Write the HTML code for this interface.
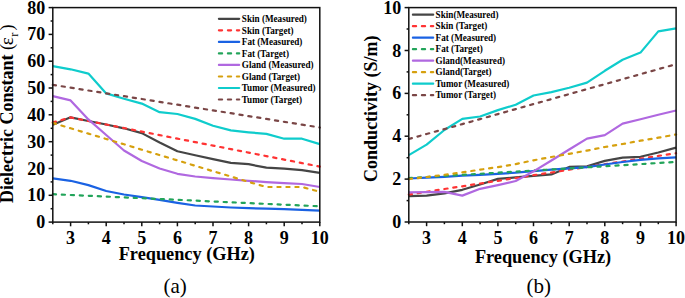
<!DOCTYPE html>
<html><head><meta charset="utf-8"><style>
html,body{margin:0;padding:0;background:#fff;width:685px;height:298px;overflow:hidden}
svg{display:block}
</style></head><body>
<svg width="685" height="298" viewBox="0 0 685 298">
<style>
text{font-family:"Liberation Serif",serif;fill:#000}
.tk{font-size:18px;font-weight:bold}
.lg{font-size:10px;font-weight:bold}
.ti{font-size:18.3px;font-weight:bold}
.cap{font-size:21px}
.yt{font-size:18px;font-weight:bold}
</style>
<rect width="685" height="298" fill="#fff"/>
<polyline points="52.8,124.8 70.6,117.3 88.4,121.0 106.2,124.5 124.0,128.3 141.8,133.1 159.6,142.5 177.4,151.3 195.2,155.3 213.0,159.1 230.8,162.8 248.6,164.2 266.4,167.7 284.2,168.7 302.0,170.1 319.8,172.8" fill="none" stroke="#454545" stroke-width="2.2" stroke-linejoin="round"/>
<polyline points="52.8,122.4 70.6,117.5 88.4,121.0 106.2,124.5 124.0,128.0 141.8,131.6 159.6,135.1 177.4,138.6 195.2,142.1 213.0,145.6 230.8,149.1 248.6,152.6 266.4,156.1 284.2,159.6 302.0,163.1 319.8,166.6" fill="none" stroke="#ff3333" stroke-width="2.2" stroke-dasharray="3.2 5.8" stroke-linecap="round"/>
<polyline points="52.8,178.4 70.6,180.8 88.4,185.1 106.2,191.0 124.0,194.5 141.8,197.2 159.6,199.8 177.4,202.8 195.2,205.5 213.0,206.5 230.8,207.5 248.6,208.2 266.4,208.7 284.2,209.2 302.0,209.9 319.8,210.6" fill="none" stroke="#1a62e3" stroke-width="2.2" stroke-linejoin="round"/>
<polyline points="52.8,194.2 70.6,195.0 88.4,195.8 106.2,196.6 124.0,197.4 141.8,198.2 159.6,199.0 177.4,199.8 195.2,200.6 213.0,201.5 230.8,202.3 248.6,203.1 266.4,203.9 284.2,204.7 302.0,205.5 319.8,206.3" fill="none" stroke="#22a45a" stroke-width="2.2" stroke-dasharray="3.2 5.8" stroke-linecap="round"/>
<polyline points="52.8,96.1 70.6,100.4 88.4,119.4 106.2,135.0 124.0,150.5 141.8,161.0 159.6,168.5 177.4,173.8 195.2,176.5 213.0,178.1 230.8,179.5 248.6,180.8 266.4,182.1 284.2,183.2 302.0,184.0 319.8,187.0" fill="none" stroke="#b068e0" stroke-width="2.2" stroke-linejoin="round"/>
<polyline points="52.8,122.9 70.6,128.3 88.4,133.6 106.2,139.0 124.0,144.3 141.8,149.7 159.6,155.1 177.4,160.4 195.2,165.8 213.0,171.2 230.8,176.5 248.6,181.9 266.4,187.0 284.2,187.0 302.0,187.0 319.8,191.8" fill="none" stroke="#d6a00e" stroke-width="2.2" stroke-dasharray="3.2 5.8" stroke-linecap="round"/>
<polyline points="52.8,66.1 70.6,69.3 88.4,73.6 106.2,93.4 124.0,98.8 141.8,103.6 159.6,112.2 177.4,114.0 195.2,118.9 213.0,125.8 230.8,130.4 248.6,132.3 266.4,133.9 284.2,138.7 302.0,138.7 319.8,144.1" fill="none" stroke="#0fcccc" stroke-width="2.2" stroke-linejoin="round"/>
<polyline points="52.8,84.8 70.6,87.7 88.4,90.5 106.2,93.3 124.0,96.2 141.8,99.0 159.6,101.9 177.4,104.7 195.2,107.6 213.0,110.4 230.8,113.2 248.6,116.1 266.4,118.9 284.2,121.8 302.0,124.6 319.8,127.5" fill="none" stroke="#7a4646" stroke-width="2.2" stroke-dasharray="3.2 5.8" stroke-linecap="round"/>
<polyline points="408.8,196.1 426.6,195.6 444.4,193.3 462.3,189.8 480.1,184.5 497.9,178.9 515.7,177.4 533.5,175.9 551.4,174.4 569.2,166.9 587.0,166.3 604.8,160.9 622.6,157.7 640.5,156.8 658.3,152.5 676.1,147.6" fill="none" stroke="#454545" stroke-width="2.2" stroke-linejoin="round"/>
<polyline points="408.8,194.6 426.6,191.8 444.4,189.0 462.3,186.3 480.1,183.5 497.9,180.8 515.7,178.0 533.5,175.2 551.4,172.5 569.2,169.7 587.0,167.0 604.8,164.2 622.6,161.5 640.5,158.7 658.3,155.9 676.1,153.2" fill="none" stroke="#ff3333" stroke-width="2.2" stroke-dasharray="3.2 5.8" stroke-linecap="round"/>
<polyline points="408.8,178.5 426.6,177.6 444.4,176.8 462.3,175.7 480.1,174.8 497.9,173.8 515.7,172.7 533.5,171.2 551.4,169.7 569.2,168.4 587.0,167.1 604.8,164.5 622.6,162.0 640.5,159.8 658.3,158.3 676.1,157.3" fill="none" stroke="#1a62e3" stroke-width="2.2" stroke-linejoin="round"/>
<polyline points="408.8,178.0 426.6,177.0 444.4,175.9 462.3,174.8 480.1,173.8 497.9,172.7 515.7,171.6 533.5,170.5 551.4,169.5 569.2,168.4 587.0,167.3 604.8,166.3 622.6,165.2 640.5,164.1 658.3,163.0 676.1,162.0" fill="none" stroke="#22a45a" stroke-width="2.2" stroke-dasharray="3.2 5.8" stroke-linecap="round"/>
<polyline points="408.8,192.4 426.6,192.2 444.4,191.8 462.3,195.6 480.1,188.8 497.9,185.1 515.7,181.0 533.5,171.4 551.4,160.5 569.2,149.5 587.0,138.6 604.8,135.2 622.6,123.6 640.5,119.3 658.3,114.8 676.1,110.5" fill="none" stroke="#b068e0" stroke-width="2.2" stroke-linejoin="round"/>
<polyline points="408.8,179.1 426.6,177.0 444.4,174.8 462.3,172.3 480.1,169.7 497.9,167.1 515.7,164.1 533.5,160.3 551.4,157.0 569.2,153.8 587.0,150.6 604.8,147.0 622.6,144.0 640.5,140.7 658.3,137.7 676.1,134.5" fill="none" stroke="#d6a00e" stroke-width="2.2" stroke-dasharray="3.2 5.8" stroke-linecap="round"/>
<polyline points="408.8,155.1 426.6,144.6 444.4,130.0 462.3,118.9 480.1,116.5 497.9,110.1 515.7,104.7 533.5,95.5 551.4,92.1 569.2,87.8 587.0,82.6 604.8,70.8 622.6,59.7 640.5,52.6 658.3,31.4 676.1,28.4" fill="none" stroke="#0fcccc" stroke-width="2.2" stroke-linejoin="round"/>
<polyline points="408.8,139.0 426.6,134.0 444.4,129.1 462.3,124.1 480.1,119.1 497.9,114.1 515.7,109.1 533.5,104.1 551.4,99.1 569.2,94.1 587.0,89.1 604.8,84.2 622.6,79.2 640.5,74.2 658.3,69.2 676.1,64.2" fill="none" stroke="#7a4646" stroke-width="2.2" stroke-dasharray="3.2 5.8" stroke-linecap="round"/>
<rect x="52.8" y="7.6" width="267.0" height="214.5" fill="none" stroke="#111" stroke-width="1.5"/>
<line x1="48.6" y1="222.1" x2="52.8" y2="222.1" stroke="#111" stroke-width="1.5"/>
<line x1="48.6" y1="195.3" x2="52.8" y2="195.3" stroke="#111" stroke-width="1.5"/>
<line x1="48.6" y1="168.5" x2="52.8" y2="168.5" stroke="#111" stroke-width="1.5"/>
<line x1="48.6" y1="141.7" x2="52.8" y2="141.7" stroke="#111" stroke-width="1.5"/>
<line x1="48.6" y1="114.8" x2="52.8" y2="114.8" stroke="#111" stroke-width="1.5"/>
<line x1="48.6" y1="88.0" x2="52.8" y2="88.0" stroke="#111" stroke-width="1.5"/>
<line x1="48.6" y1="61.2" x2="52.8" y2="61.2" stroke="#111" stroke-width="1.5"/>
<line x1="48.6" y1="34.4" x2="52.8" y2="34.4" stroke="#111" stroke-width="1.5"/>
<line x1="48.6" y1="7.6" x2="52.8" y2="7.6" stroke="#111" stroke-width="1.5"/>
<line x1="50.6" y1="208.7" x2="52.8" y2="208.7" stroke="#111" stroke-width="1.5"/>
<line x1="50.6" y1="181.9" x2="52.8" y2="181.9" stroke="#111" stroke-width="1.5"/>
<line x1="50.6" y1="155.1" x2="52.8" y2="155.1" stroke="#111" stroke-width="1.5"/>
<line x1="50.6" y1="128.3" x2="52.8" y2="128.3" stroke="#111" stroke-width="1.5"/>
<line x1="50.6" y1="101.4" x2="52.8" y2="101.4" stroke="#111" stroke-width="1.5"/>
<line x1="50.6" y1="74.6" x2="52.8" y2="74.6" stroke="#111" stroke-width="1.5"/>
<line x1="50.6" y1="47.8" x2="52.8" y2="47.8" stroke="#111" stroke-width="1.5"/>
<line x1="50.6" y1="21.0" x2="52.8" y2="21.0" stroke="#111" stroke-width="1.5"/>
<line x1="70.6" y1="222.1" x2="70.6" y2="226.3" stroke="#111" stroke-width="1.5"/>
<line x1="106.2" y1="222.1" x2="106.2" y2="226.3" stroke="#111" stroke-width="1.5"/>
<line x1="141.8" y1="222.1" x2="141.8" y2="226.3" stroke="#111" stroke-width="1.5"/>
<line x1="177.4" y1="222.1" x2="177.4" y2="226.3" stroke="#111" stroke-width="1.5"/>
<line x1="213.0" y1="222.1" x2="213.0" y2="226.3" stroke="#111" stroke-width="1.5"/>
<line x1="248.6" y1="222.1" x2="248.6" y2="226.3" stroke="#111" stroke-width="1.5"/>
<line x1="284.2" y1="222.1" x2="284.2" y2="226.3" stroke="#111" stroke-width="1.5"/>
<line x1="319.8" y1="222.1" x2="319.8" y2="226.3" stroke="#111" stroke-width="1.5"/>
<line x1="52.8" y1="222.1" x2="52.8" y2="224.3" stroke="#111" stroke-width="1.5"/>
<line x1="88.4" y1="222.1" x2="88.4" y2="224.3" stroke="#111" stroke-width="1.5"/>
<line x1="124.0" y1="222.1" x2="124.0" y2="224.3" stroke="#111" stroke-width="1.5"/>
<line x1="159.6" y1="222.1" x2="159.6" y2="224.3" stroke="#111" stroke-width="1.5"/>
<line x1="195.2" y1="222.1" x2="195.2" y2="224.3" stroke="#111" stroke-width="1.5"/>
<line x1="230.8" y1="222.1" x2="230.8" y2="224.3" stroke="#111" stroke-width="1.5"/>
<line x1="266.4" y1="222.1" x2="266.4" y2="224.3" stroke="#111" stroke-width="1.5"/>
<line x1="302.0" y1="222.1" x2="302.0" y2="224.3" stroke="#111" stroke-width="1.5"/>
<text x="45.3" y="228.1" text-anchor="end" class="tk">0</text>
<text x="45.3" y="201.3" text-anchor="end" class="tk">10</text>
<text x="45.3" y="174.5" text-anchor="end" class="tk">20</text>
<text x="45.3" y="147.7" text-anchor="end" class="tk">30</text>
<text x="45.3" y="120.8" text-anchor="end" class="tk">40</text>
<text x="45.3" y="94.0" text-anchor="end" class="tk">50</text>
<text x="45.3" y="67.2" text-anchor="end" class="tk">60</text>
<text x="45.3" y="40.4" text-anchor="end" class="tk">70</text>
<text x="45.3" y="13.6" text-anchor="end" class="tk">80</text>
<text x="70.6" y="243.5" text-anchor="middle" class="tk">3</text>
<text x="106.2" y="243.5" text-anchor="middle" class="tk">4</text>
<text x="141.8" y="243.5" text-anchor="middle" class="tk">5</text>
<text x="177.4" y="243.5" text-anchor="middle" class="tk">6</text>
<text x="213.0" y="243.5" text-anchor="middle" class="tk">7</text>
<text x="248.6" y="243.5" text-anchor="middle" class="tk">8</text>
<text x="284.2" y="243.5" text-anchor="middle" class="tk">9</text>
<text x="319.8" y="243.5" text-anchor="middle" class="tk">10</text>
<rect x="408.8" y="7.6" width="267.3" height="214.4" fill="none" stroke="#111" stroke-width="1.5"/>
<line x1="404.6" y1="222.0" x2="408.8" y2="222.0" stroke="#111" stroke-width="1.5"/>
<line x1="404.6" y1="179.1" x2="408.8" y2="179.1" stroke="#111" stroke-width="1.5"/>
<line x1="404.6" y1="136.2" x2="408.8" y2="136.2" stroke="#111" stroke-width="1.5"/>
<line x1="404.6" y1="93.4" x2="408.8" y2="93.4" stroke="#111" stroke-width="1.5"/>
<line x1="404.6" y1="50.5" x2="408.8" y2="50.5" stroke="#111" stroke-width="1.5"/>
<line x1="404.6" y1="7.6" x2="408.8" y2="7.6" stroke="#111" stroke-width="1.5"/>
<line x1="406.6" y1="200.6" x2="408.8" y2="200.6" stroke="#111" stroke-width="1.5"/>
<line x1="406.6" y1="157.7" x2="408.8" y2="157.7" stroke="#111" stroke-width="1.5"/>
<line x1="406.6" y1="114.8" x2="408.8" y2="114.8" stroke="#111" stroke-width="1.5"/>
<line x1="406.6" y1="71.9" x2="408.8" y2="71.9" stroke="#111" stroke-width="1.5"/>
<line x1="406.6" y1="29.0" x2="408.8" y2="29.0" stroke="#111" stroke-width="1.5"/>
<line x1="426.6" y1="222.0" x2="426.6" y2="226.2" stroke="#111" stroke-width="1.5"/>
<line x1="462.3" y1="222.0" x2="462.3" y2="226.2" stroke="#111" stroke-width="1.5"/>
<line x1="497.9" y1="222.0" x2="497.9" y2="226.2" stroke="#111" stroke-width="1.5"/>
<line x1="533.5" y1="222.0" x2="533.5" y2="226.2" stroke="#111" stroke-width="1.5"/>
<line x1="569.2" y1="222.0" x2="569.2" y2="226.2" stroke="#111" stroke-width="1.5"/>
<line x1="604.8" y1="222.0" x2="604.8" y2="226.2" stroke="#111" stroke-width="1.5"/>
<line x1="640.5" y1="222.0" x2="640.5" y2="226.2" stroke="#111" stroke-width="1.5"/>
<line x1="676.1" y1="222.0" x2="676.1" y2="226.2" stroke="#111" stroke-width="1.5"/>
<line x1="408.8" y1="222.0" x2="408.8" y2="224.2" stroke="#111" stroke-width="1.5"/>
<line x1="444.4" y1="222.0" x2="444.4" y2="224.2" stroke="#111" stroke-width="1.5"/>
<line x1="480.1" y1="222.0" x2="480.1" y2="224.2" stroke="#111" stroke-width="1.5"/>
<line x1="515.7" y1="222.0" x2="515.7" y2="224.2" stroke="#111" stroke-width="1.5"/>
<line x1="551.4" y1="222.0" x2="551.4" y2="224.2" stroke="#111" stroke-width="1.5"/>
<line x1="587.0" y1="222.0" x2="587.0" y2="224.2" stroke="#111" stroke-width="1.5"/>
<line x1="622.6" y1="222.0" x2="622.6" y2="224.2" stroke="#111" stroke-width="1.5"/>
<line x1="658.3" y1="222.0" x2="658.3" y2="224.2" stroke="#111" stroke-width="1.5"/>
<text x="401.3" y="228.0" text-anchor="end" class="tk">0</text>
<text x="401.3" y="185.1" text-anchor="end" class="tk">2</text>
<text x="401.3" y="142.2" text-anchor="end" class="tk">4</text>
<text x="401.3" y="99.4" text-anchor="end" class="tk">6</text>
<text x="401.3" y="56.5" text-anchor="end" class="tk">8</text>
<text x="401.3" y="13.6" text-anchor="end" class="tk">10</text>
<text x="426.6" y="243.5" text-anchor="middle" class="tk">3</text>
<text x="462.3" y="243.5" text-anchor="middle" class="tk">4</text>
<text x="497.9" y="243.5" text-anchor="middle" class="tk">5</text>
<text x="533.5" y="243.5" text-anchor="middle" class="tk">6</text>
<text x="569.2" y="243.5" text-anchor="middle" class="tk">7</text>
<text x="604.8" y="243.5" text-anchor="middle" class="tk">8</text>
<text x="640.5" y="243.5" text-anchor="middle" class="tk">9</text>
<text x="676.1" y="243.5" text-anchor="middle" class="tk">10</text>
<line x1="218.9" y1="18.8" x2="239.2" y2="18.8" stroke="#454545" stroke-width="2.2" stroke-linecap="round"/>
<text transform="translate(241.8,22.0) scale(0.915,1)" class="lg">Skin (Measured)</text>
<line x1="218.9" y1="30.3" x2="239.2" y2="30.3" stroke="#ff3333" stroke-width="2.2" stroke-dasharray="3.2 5.8" stroke-linecap="round"/>
<text transform="translate(241.8,33.5) scale(0.915,1)" class="lg">Skin (Target)</text>
<line x1="218.9" y1="41.9" x2="239.2" y2="41.9" stroke="#1a62e3" stroke-width="2.2" stroke-linecap="round"/>
<text transform="translate(241.8,45.1) scale(0.915,1)" class="lg">Fat (Measured)</text>
<line x1="218.9" y1="53.4" x2="239.2" y2="53.4" stroke="#22a45a" stroke-width="2.2" stroke-dasharray="3.2 5.8" stroke-linecap="round"/>
<text transform="translate(241.8,56.6) scale(0.915,1)" class="lg">Fat (Target)</text>
<line x1="218.9" y1="64.9" x2="239.2" y2="64.9" stroke="#b068e0" stroke-width="2.2" stroke-linecap="round"/>
<text transform="translate(241.8,68.1) scale(0.915,1)" class="lg">Gland (Measured)</text>
<line x1="218.9" y1="76.5" x2="239.2" y2="76.5" stroke="#d6a00e" stroke-width="2.2" stroke-dasharray="3.2 5.8" stroke-linecap="round"/>
<text transform="translate(241.8,79.7) scale(0.915,1)" class="lg">Gland (Target)</text>
<line x1="218.9" y1="88.0" x2="239.2" y2="88.0" stroke="#0fcccc" stroke-width="2.2" stroke-linecap="round"/>
<text transform="translate(241.8,91.2) scale(0.915,1)" class="lg">Tumor (Measured)</text>
<line x1="218.9" y1="99.5" x2="239.2" y2="99.5" stroke="#7a4646" stroke-width="2.2" stroke-dasharray="3.2 5.8" stroke-linecap="round"/>
<text transform="translate(241.8,102.7) scale(0.915,1)" class="lg">Tumor (Target)</text>
<line x1="412.9" y1="14.7" x2="433.2" y2="14.7" stroke="#454545" stroke-width="2.2" stroke-linecap="round"/>
<text transform="translate(435.6,17.5) scale(0.915,1)" class="lg">Skin(Measured)</text>
<line x1="412.9" y1="26.2" x2="433.2" y2="26.2" stroke="#ff3333" stroke-width="2.2" stroke-dasharray="3.2 5.8" stroke-linecap="round"/>
<text transform="translate(435.6,29.0) scale(0.915,1)" class="lg">Skin (Target)</text>
<line x1="412.9" y1="37.7" x2="433.2" y2="37.7" stroke="#1a62e3" stroke-width="2.2" stroke-linecap="round"/>
<text transform="translate(435.6,40.5) scale(0.915,1)" class="lg">Fat (Measured)</text>
<line x1="412.9" y1="49.2" x2="433.2" y2="49.2" stroke="#22a45a" stroke-width="2.2" stroke-dasharray="3.2 5.8" stroke-linecap="round"/>
<text transform="translate(435.6,52.0) scale(0.915,1)" class="lg">Fat (Target)</text>
<line x1="412.9" y1="60.7" x2="433.2" y2="60.7" stroke="#b068e0" stroke-width="2.2" stroke-linecap="round"/>
<text transform="translate(435.6,63.5) scale(0.915,1)" class="lg">Gland(Measured)</text>
<line x1="412.9" y1="72.2" x2="433.2" y2="72.2" stroke="#d6a00e" stroke-width="2.2" stroke-dasharray="3.2 5.8" stroke-linecap="round"/>
<text transform="translate(435.6,75.0) scale(0.915,1)" class="lg">Gland(Target)</text>
<line x1="412.9" y1="83.7" x2="433.2" y2="83.7" stroke="#0fcccc" stroke-width="2.2" stroke-linecap="round"/>
<text transform="translate(435.6,86.5) scale(0.915,1)" class="lg">Tumor (Measured)</text>
<line x1="412.9" y1="95.2" x2="433.2" y2="95.2" stroke="#7a4646" stroke-width="2.2" stroke-dasharray="3.2 5.8" stroke-linecap="round"/>
<text transform="translate(435.6,98.0) scale(0.915,1)" class="lg">Tumor (Target)</text>
<text x="118.7" y="259.9" class="ti">Frequency (GHz)</text>
<text x="474.9" y="263.2" class="ti">Frequency (GHz)</text>
<text transform="translate(13.2,202.9) rotate(-90)" class="yt">Dielectric Constant <tspan font-weight="normal">(<tspan font-size="19.5" dx="-1.2">ε</tspan><tspan font-size="12" dy="5" dx="0.3">r</tspan><tspan dy="-5" dx="2.2">)</tspan></tspan></text>
<text transform="translate(376.5,181.9) rotate(-90)" class="yt">Conductivity (S/m)</text>
<text x="163.5" y="293" class="cap">(a)</text>
<text x="526.5" y="293" class="cap">(b)</text>
</svg>
</body></html>
